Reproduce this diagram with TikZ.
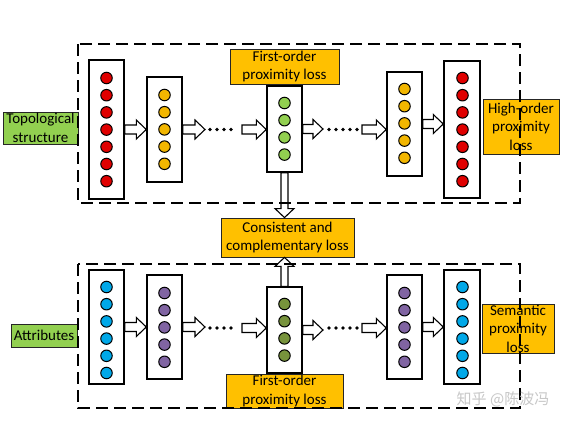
\documentclass[tikz,border=0pt]{standalone}
\usepackage{fontspec}
\setmainfont{Carlito}
\newfontfamily\cjkfont{Noto Sans CJK SC}
\usetikzlibrary{calc}
\definecolor{cred}{HTML}{E00000}
\definecolor{corange}{HTML}{F2B600}
\definecolor{cgreen}{HTML}{92D050}
\definecolor{cblue}{HTML}{00A8E8}
\definecolor{cpurple}{HTML}{8064A2}
\definecolor{colive}{HTML}{77933C}
\definecolor{lblfill}{HTML}{FFC000}
\definecolor{lblgreen}{HTML}{92D050}
\tikzset{
  layer/.style={draw=black, line width=1.4pt, fill=white, inner sep=0pt},
  neur/.style={circle, draw=black, line width=1pt, minimum size=11.5pt, inner sep=0pt},
  lbl/.style={draw=black!85, line width=0.8pt, fill=lblfill, inner sep=0pt, align=center, font=\fontsize{15}{18.5}\selectfont},
  glbl/.style={lbl, fill=lblgreen},
  hol/.style={draw=black, line width=1.1pt, fill=white, line join=miter},
  dotline/.style={line width=3.8pt, line cap=round, dash pattern=on 0pt off 7pt},
  frame/.style={draw=black, line width=1.6pt, dash pattern=on 12pt off 6pt}
}
% style, name, x1, y1, x2, y2 -> node placed by its corners
\newcommand\boxnode[6]{\node[#1, minimum width={(#5-#3)*1pt}, minimum height={(#6-#4)*1pt}] (#2) at ({(#3+#5)/2},{(#4+#6)/2})}
\newcommand\dotcol[5]{%
  \foreach \i in {1,...,#4} \node[neur, fill=#5] (#1-\i) at (#2, {#3+(\i-1)*17.2}) {};}
\newcommand\harrow[2]{%
  \draw[hol] let \p1=(#1), \p2=(#2) in
   (\x1,\y1+4.5pt) -- (\x2-10pt,\y1+4.5pt) -- (\x2-10pt,\y1+9.5pt) -- (\x2,\y1)
   -- (\x2-10pt,\y1-9.5pt) -- (\x2-10pt,\y1-4.5pt) -- (\x1,\y1-4.5pt) -- cycle;}
\newcommand\vdown[2]{%
  \draw[hol] let \p1=(#1), \p2=(#2) in
   (\x1-3.5pt,\y1) -- (\x1-3.5pt,\y2+9pt) -- (\x1-9.5pt,\y2+9pt) -- (\x1,\y2)
   -- (\x1+9.5pt,\y2+9pt) -- (\x1+3.5pt,\y2+9pt) -- (\x1+3.5pt,\y1) -- cycle;}
\newcommand\vup[2]{%
  \draw[hol] let \p1=(#1), \p2=(#2) in
   (\x1-3.5pt,\y1) -- (\x1-3.5pt,\y2-9pt) -- (\x1-9.5pt,\y2-9pt) -- (\x1,\y2)
   -- (\x1+9.5pt,\y2-9pt) -- (\x1+3.5pt,\y2-9pt) -- (\x1+3.5pt,\y1) -- cycle;}
\begin{document}
\begin{tikzpicture}[x=1pt,y=-1pt]
\useasboundingbox[fill=white] (0,0) rectangle (570,423);
% ---------- top row layers ----------
\boxnode{layer}{L1}{89}{60}{124}{199} {};
\boxnode{layer}{L2}{147}{77}{182}{182} {};
\boxnode{layer}{L3}{267}{86}{302}{172} {};
\boxnode{layer}{L4}{387}{72}{422}{176} {};
\boxnode{layer}{L5}{444}{61}{480}{198} {};
\dotcol{t1}{106.5}{78}{7}{cred}
\dotcol{t2}{164.5}{95}{5}{corange}
\dotcol{t3}{284.5}{103}{4}{cgreen}
\dotcol{t4}{404.5}{89}{5}{corange}
\dotcol{t5}{462.5}{78}{7}{cred}
% ---------- bottom row layers ----------
\boxnode{layer}{B1}{89}{270}{124}{384} {};
\boxnode{layer}{B2}{147}{275}{182}{379} {};
\boxnode{layer}{B3}{267}{287}{302}{373} {};
\boxnode{layer}{B4}{387}{275}{422}{379} {};
\boxnode{layer}{B5}{444}{270}{480}{384} {};
\dotcol{b1}{106.5}{287}{6}{cblue}
\dotcol{b2}{164.5}{293}{5}{cpurple}
\dotcol{b3}{284.5}{304}{4}{colive}
\dotcol{b4}{404.5}{293}{5}{cpurple}
\dotcol{b5}{462.5}{287}{6}{cblue}
% ---------- dot coordinates ----------
\coordinate (ta) at (205,129.5);
\coordinate (tb) at (210,129.5);
\coordinate (tc) at (238,129.5);
\coordinate (td) at (242,129.5);
\coordinate (te) at (323,129.5);
\coordinate (tf) at (329,129.5);
\coordinate (tg) at (358,129.5);
\coordinate (th) at (362,129.5);
\coordinate (ba) at (205,328);
\coordinate (bb) at (210,328);
\coordinate (bc) at (238,328);
\coordinate (bd) at (242,328);
\coordinate (be) at (323,328);
\coordinate (bf) at (329,328);
\coordinate (bg) at (358,328);
\coordinate (bh) at (362,328);
% ---------- top arrows ----------
\harrow{L1.east}{L2.west}
\harrow{L2.east}{ta}
\draw[dotline] (tb) -- (tc);
\harrow{td}{L3.west}
\harrow{L3.east}{te}
\draw[dotline] (tf) -- (tg);
\harrow{th}{L4.west}
\harrow{L4.east}{L5.west}
% ---------- bottom arrows ----------
\harrow{B1.east}{B2.west}
\harrow{B2.east}{ba}
\draw[dotline] (bb) -- (bc);
\harrow{bd}{B3.west}
\harrow{B3.east}{be}
\draw[dotline] (bf) -- (bg);
\harrow{bh}{B4.west}
\harrow{B4.east}{B5.west}
% ---------- labels ----------
\boxnode{lbl}{fo1}{230}{49}{339}{84} {First-order\\proximity loss};
\boxnode{lbl}{ho}{483}{99}{559}{154} {High-order\\proximity\\loss};
\boxnode{glbl}{topo}{3}{112}{78}{144} {Topological\\structure};
\boxnode{lbl}{cons}{221}{218}{354}{257} {Consistent and\\complementary loss};
\boxnode{lbl}{fo2}{226}{374}{343}{408} {First-order\\proximity loss};
\boxnode{lbl}{sem}{482}{304}{554}{353} {Semantic\\proximity\\loss};
\boxnode{glbl}{attr}{11}{324}{77}{347} {Attributes};
% ---------- vertical arrows ----------
\vdown{L3.south}{cons.north}
\vup{B3.north}{cons.south}
% ---------- dashed frames ----------
\draw[frame] (78,44) rectangle (520,203);
\draw[frame] (78,264) rectangle (520,408);
% ---------- watermark ----------
\node[text=black!22, font=\cjkfont\fontsize{15}{15}\selectfont, anchor=center] (wm) at (503,399) {知乎 @陈波冯};
\end{tikzpicture}
\end{document}
